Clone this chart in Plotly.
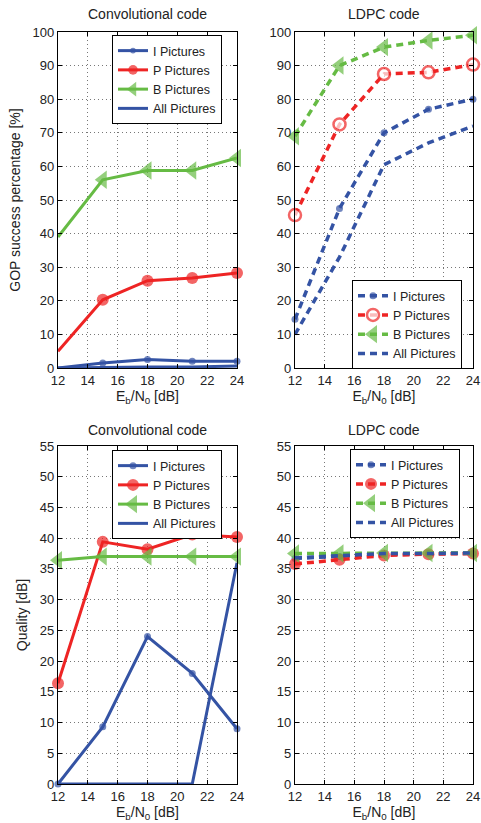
import plotly.graph_objects as go

ebn0 = [12, 15, 18, 21, 24]
x_ticks = [12, 14, 16, 18, 20, 22, 24]

# GOP success percentage [%]
conv_gop_I = [0, 1.5, 2.5, 2.0, 2.0]
conv_gop_P = [5, 20.3, 26.0, 26.8, 28.3]
conv_gop_B = [39, 56.0, 58.8, 58.8, 62.5]
conv_gop_All = [0, 0.2, 0.3, 0.3, 0.6]

ldpc_gop_I = [14.5, 47.5, 70.0, 77.0, 80.0]
ldpc_gop_P = [45.5, 72.5, 87.5, 88.0, 90.3]
ldpc_gop_B = [69.0, 90.0, 95.5, 97.5, 99.0]
ldpc_gop_All = [10.0, 33.0, 60.5, 67.0, 72.0]

# Quality [dB]
conv_q_I = [0, 9.3, 24.0, 18.0, 9.0]
conv_q_P = [16.4, 39.4, 38.2, 40.6, 40.2]
conv_q_B = [36.4, 37.0, 37.0, 37.0, 37.0]
conv_q_All = [0, 0, 0, 0, 36.0]

ldpc_q_I = [36.7, 37.0, 37.4, 37.5, 37.5]
ldpc_q_P = [35.8, 36.5, 37.2, 37.4, 37.5]
ldpc_q_B = [37.5, 37.5, 37.6, 37.6, 37.6]
ldpc_q_All = [36.8, 37.2, 37.5, 37.5, 37.6]

names = ["I Pictures", "P Pictures", "B Pictures", "All Pictures"]

BLUE = "#3453a4"
RED = "#ee2424"
GREEN = "#66bb44"
FONT = "Liberation Sans, Arial, sans-serif"

W, H = 481, 823
ML, MR, MT, MB = 58, W - 473, 32, H - 784
PW, PH = W - ML - MR, H - MT - MB

def fx(px):
    return (px - ML) / PW
def fy(py):
    return 1 - (py - MT) / PH

xdom = {"L": [fx(58), fx(237)], "R": [fx(295), fx(473)]}
ydom = {"T": [fy(368), fy(32)], "B": [fy(784), fy(446)]}

fig = go.Figure()

panels = [
    ("x", "y", "L", "T", [conv_gop_I, conv_gop_P, conv_gop_B, conv_gop_All], False, "legend", True, False),
    ("x2", "y2", "R", "T", [ldpc_gop_I, ldpc_gop_P, ldpc_gop_B, ldpc_gop_All], True, "legend2", False, True),
    ("x3", "y3", "L", "B", [conv_q_I, conv_q_P, conv_q_B, conv_q_All], False, "legend3", False, False),
    ("x4", "y4", "R", "B", [ldpc_q_I, ldpc_q_P, ldpc_q_B, ldpc_q_All], True, "legend4", False, False),
]

for xa, ya, xd, yd, data, dashed, leg, hide_first, open_p in panels:
    dash = "7px,5px" if dashed else "solid"
    lw = 3.5 if dashed else 3
    styles = [
        (BLUE, "circle", 7, BLUE),
        (RED, "circle", 12, "white" if open_p else RED),
        (GREEN, "triangle-left", 16, GREEN),
        (BLUE, None, 0, BLUE),
    ]
    for (col, sym, sz, fillc), nm, vals in zip(styles, names, data):
        if sym is None:
            fig.add_trace(go.Scatter(
                x=ebn0, y=vals, mode="lines", name=nm,
                line=dict(color=col, width=lw, dash=dash),
                xaxis=xa, yaxis=ya, legend=leg, cliponaxis=True))
        else:
            sizes = [sz] * len(ebn0)
            if hide_first:
                sizes[0] = 0
            fig.add_trace(go.Scatter(
                x=ebn0, y=vals, mode="lines+markers", name=nm,
                line=dict(color=col, width=lw, dash=dash),
                marker=dict(symbol=sym, size=sizes, color=fillc,
                            line=dict(color=col, width=2.5 if open_p and col == RED else 0)),
                xaxis=xa, yaxis=ya, legend=leg, cliponaxis=False))

axis_common = dict(
    showline=True, linecolor="black", linewidth=1.2, mirror="ticks",
    ticks="inside", ticklen=4, tickcolor="black",
    showgrid=True, gridcolor="#777777", griddash="1px,3px", gridwidth=1,
    zeroline=False, automargin=False,
    tickfont=dict(family=FONT, size=13, color="#222"),
)

layout = dict(
    width=W, height=H, margin=dict(l=ML, r=MR, t=MT, b=MB, autoexpand=False),
    paper_bgcolor="white", plot_bgcolor="white",
    font=dict(family=FONT, size=13, color="#222"),
)

xtitle = dict(text="E<sub>b</sub>/N<sub>0</sub> [dB]", font=dict(family=FONT, size=14, color="#222"), standoff=2)

for xa, ya, xd, yd, *_rest in panels:
    xk = "xaxis" if xa == "x" else "xaxis" + xa[1:]
    yk = "yaxis" if ya == "y" else "yaxis" + ya[1:]
    top = yd == "T"
    layout[xk] = dict(axis_common, domain=xdom[xd], anchor=ya, range=[12, 24],
                      tickvals=x_ticks, title=xtitle)
    if top:
        yt = dict(range=[0, 100], tickvals=list(range(0, 101, 10)))
    else:
        yt = dict(range=[0, 55], tickvals=list(range(0, 56, 5)))
    ytitle = None
    if xd == "L":
        ytitle = dict(text="GOP success percentage [%]" if top else "Quality [dB]",
                      font=dict(family=FONT, size=14, color="#222"), standoff=8)
    layout[yk] = dict(axis_common, domain=ydom[yd], anchor=xa, title=ytitle, **yt)

legend_common = dict(
    bgcolor="white", bordercolor="black", borderwidth=1,
    font=dict(family=FONT, size=12.5, color="#222"),
    xanchor="left", yanchor="top", tracegroupgap=0, itemwidth=30,
)
layout["legend"] = dict(legend_common, x=fx(112), y=fy(35))
layout["legend2"] = dict(legend_common, x=fx(352), y=fy(280))
layout["legend3"] = dict(legend_common, x=fx(112), y=fy(450))
layout["legend4"] = dict(legend_common, x=fx(350), y=fy(449))

titles = [("Convolutional code", 147, 14), ("LDPC code", 384, 14),
          ("Convolutional code", 147, 430), ("LDPC code", 384, 430)]
layout["annotations"] = [
    dict(text=t, x=fx(cx), y=fy(cy), xref="paper", yref="paper",
         xanchor="center", yanchor="middle", showarrow=False,
         font=dict(family=FONT, size=14, color="#222"))
    for t, cx, cy in titles
]

fig.update_layout(**layout)
fig.write_html("out.html", config={"displayModeBar": False},
               post_script="document.body.style.margin='0';document.body.style.overflow='hidden';")
